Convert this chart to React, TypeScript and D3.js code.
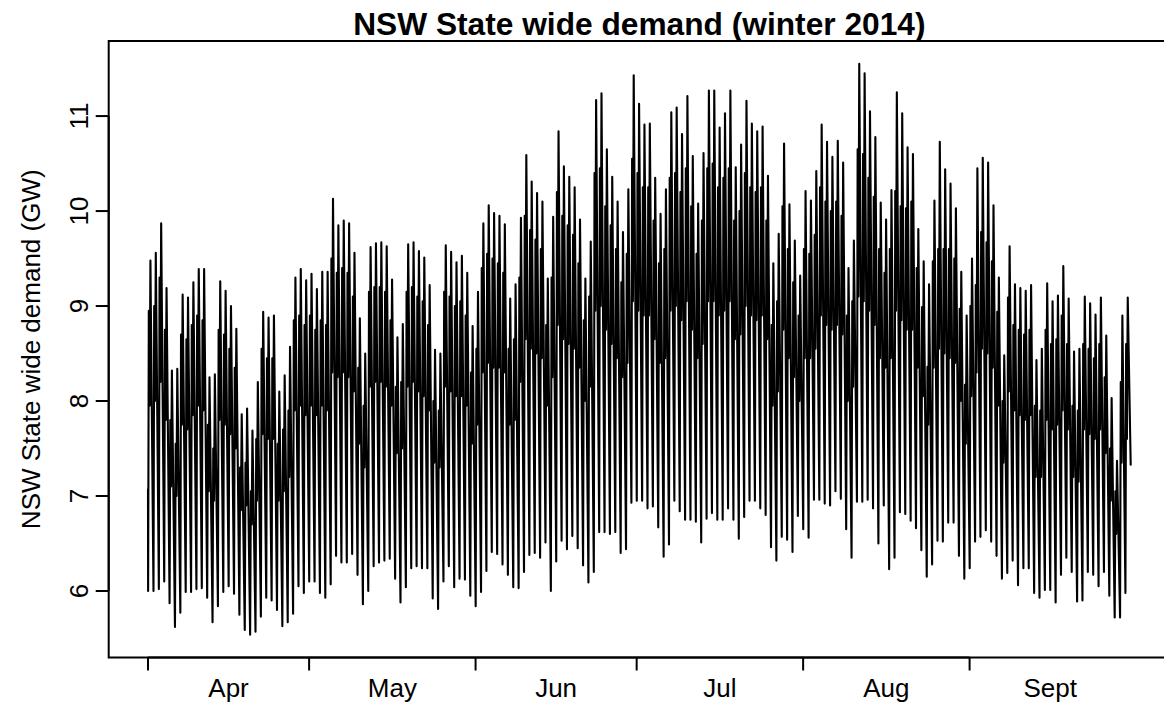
import React from 'react';
import * as d3 from 'd3';

// daily readings, 1 Apr 2014 .. 30 Sep 2014 (GW)
const peak = [
  9.48, 9.56, 9.87, 9.19, 8.32, 8.34, 9.12, 9.09, 9.25, 9.39, 9.39, 8.25, 8.28, 9.26, 9.16, 9.00, 8.76, 7.86, 7.92, 7.69, 8.20, 8.94, 8.88, 8.90, 8.10, 8.27, 8.57, 9.30, 9.39, 9.27,
  9.34, 9.18, 9.36, 9.36, 10.13, 9.85, 9.90, 9.87, 9.56, 8.87, 8.50, 9.62, 9.66, 9.67, 9.63, 9.28, 8.67, 8.81, 9.65, 9.67, 9.58, 9.51, 9.22, 8.54, 8.50, 9.64, 9.57, 9.46, 9.53, 9.35, 8.79,
  9.15, 9.87, 10.06, 9.98, 9.95, 9.86, 9.08, 9.23, 9.93, 10.59, 10.31, 10.19, 10.10, 9.29, 9.94, 10.84, 10.47, 10.36, 10.25, 9.91, 9.29, 9.68, 11.17, 11.24, 10.65, 10.36, 10.10, 9.78, 10.23, 11.43,
  11.13, 10.91, 10.92, 10.35, 9.97, 10.23, 11.04, 11.09, 10.81, 11.21, 10.58, 10.08, 10.61, 11.27, 11.27, 10.88, 11.03, 11.27, 10.46, 10.70, 11.16, 10.92, 10.84, 10.89, 10.37, 9.45, 9.76, 10.71, 10.07, 9.69, 9.32,
  10.21, 10.11, 10.42, 10.91, 10.73, 10.57, 10.74, 10.51, 9.40, 9.69, 11.55, 11.45, 11.05, 10.78, 10.09, 9.91, 10.22, 11.25, 11.03, 10.67, 10.60, 9.81, 9.47, 9.23, 10.11, 10.73, 10.44, 10.29, 10.03, 9.36, 8.90,
  9.50, 10.45, 10.56, 10.51, 10.06, 9.30, 8.48, 9.63, 9.23, 9.19, 9.16, 9.22, 8.43, 8.55, 9.24, 9.05, 9.11, 9.42, 9.08, 8.52, 8.55, 9.10, 9.03, 8.91, 9.09, 8.69, 8.03, 7.37, 8.90, 9.09,
];

const morning = [
  8.95, 9.00, 9.30, 8.75, 7.80, 7.55, 8.70, 8.65, 8.80, 8.90, 8.85, 7.75, 7.50, 8.75, 8.70, 8.55, 8.35, 7.30, 7.35, 7.05, 7.60, 8.55, 8.45, 8.45, 7.55, 7.70, 7.90, 8.85, 8.90, 8.80,
  8.90, 8.75, 8.85, 8.80, 9.50, 9.35, 9.40, 9.35, 9.10, 8.35, 7.95, 9.15, 9.20, 9.20, 9.15, 8.85, 8.15, 8.20, 9.15, 9.20, 9.10, 9.05, 8.80, 8.00, 7.90, 9.15, 9.10, 9.00, 9.05, 8.90, 8.30,
  8.55, 9.40, 9.55, 9.50, 9.45, 9.35, 8.55, 8.65, 9.30, 9.95, 9.80, 9.70, 9.60, 8.80, 9.30, 10.20, 9.95, 9.85, 9.75, 9.45, 8.85, 9.10, 10.40, 10.45, 10.05, 9.85, 9.60, 9.25, 9.55, 10.55,
  10.40, 10.25, 10.25, 9.90, 9.45, 9.60, 10.35, 10.40, 10.20, 10.45, 10.05, 9.55, 9.90, 10.45, 10.50, 10.25, 10.35, 10.45, 9.90, 10.00, 10.40, 10.25, 10.20, 10.25, 9.90, 8.80, 9.05, 10.05, 9.60, 9.25, 8.90,
  9.60, 9.55, 9.75, 10.25, 10.10, 10.00, 10.10, 9.95, 8.90, 9.05, 10.65, 10.60, 10.35, 10.15, 9.60, 9.35, 9.60, 10.21, 10.05, 10.03, 10.10, 9.40, 8.99, 8.36, 9.47, 9.60, 9.60, 9.60, 9.50, 8.97, 8.17,
  9.00, 9.22, 9.78, 9.67, 9.47, 8.94, 8.00, 9.09, 8.80, 8.75, 8.70, 8.75, 7.95, 7.90, 8.75, 8.60, 8.65, 8.90, 8.60, 7.95, 7.90, 8.60, 8.55, 8.45, 8.60, 8.25, 7.50, 7.05, 8.20, 8.60,
];

const midday = [
  7.95, 8.00, 8.20, 7.80, 7.10, 7.00, 7.75, 7.70, 7.85, 7.95, 7.90, 7.05, 6.95, 7.80, 7.75, 7.65, 7.50, 6.85, 6.90, 6.70, 6.95, 7.65, 7.60, 7.60, 6.95, 7.05, 7.20, 7.90, 7.95, 7.85,
  7.95, 7.85, 7.95, 7.90, 8.30, 8.25, 8.30, 8.25, 8.10, 7.55, 7.30, 8.15, 8.20, 8.20, 8.15, 7.95, 7.45, 7.50, 8.15, 8.20, 8.10, 8.05, 7.90, 7.35, 7.30, 8.15, 8.10, 8.05, 8.05, 7.95, 7.55,
  7.75, 8.30, 8.40, 8.35, 8.35, 8.30, 7.75, 7.80, 8.20, 8.65, 8.55, 8.50, 8.45, 7.95, 8.25, 8.80, 8.65, 8.60, 8.55, 8.35, 8.00, 8.15, 8.95, 9.00, 8.75, 8.60, 8.45, 8.25, 8.40, 9.05,
  8.95, 8.90, 8.90, 8.65, 8.40, 8.45, 8.95, 9.00, 8.85, 9.05, 8.75, 8.45, 8.60, 9.05, 9.05, 8.90, 8.95, 9.05, 8.65, 8.70, 9.00, 8.90, 8.85, 8.90, 8.65, 7.95, 8.10, 8.75, 8.45, 8.25, 8.00,
  8.45, 8.45, 8.55, 8.90, 8.80, 8.75, 8.80, 8.70, 8.00, 8.15, 9.10, 9.05, 8.95, 8.80, 8.45, 8.35, 8.45, 8.95, 8.85, 8.75, 8.75, 8.35, 8.05, 7.75, 8.35, 8.55, 8.50, 8.45, 8.40, 8.00, 7.55,
  8.05, 8.30, 8.55, 8.50, 8.35, 7.95, 7.35, 8.10, 7.90, 7.85, 7.80, 7.85, 7.20, 7.20, 7.80, 7.70, 7.75, 7.90, 7.70, 7.20, 7.15, 7.70, 7.65, 7.60, 7.70, 7.45, 6.95, 6.60, 7.35, 7.60,
];

const trough = [
  6.00, 6.00, 6.02, 6.10, 5.87, 5.62, 5.77, 5.99, 5.99, 6.02, 6.03, 5.93, 5.67, 5.84, 5.99, 6.05, 5.97, 5.75, 5.59, 5.54, 5.57, 5.73, 5.93, 5.90, 5.80, 5.63, 5.67, 5.76, 6.05, 5.98,
  6.10, 6.10, 5.98, 5.93, 6.07, 6.37, 6.30, 6.30, 6.39, 6.17, 5.86, 6.00, 6.26, 6.30, 6.32, 6.34, 6.13, 5.88, 6.04, 6.24, 6.26, 6.24, 6.24, 5.92, 5.81, 6.10, 6.26, 6.04, 6.13, 6.12, 5.95,
  5.84, 5.99, 6.21, 6.41, 6.39, 6.28, 6.17, 6.04, 6.03, 6.20, 6.38, 6.40, 6.35, 6.51, 6.00, 6.31, 6.53, 6.44, 6.58, 6.45, 6.27, 6.09, 6.20, 6.62, 6.62, 6.60, 6.62, 6.40, 6.44, 6.93,
  6.95, 6.95, 6.87, 6.89, 6.67, 6.36, 6.49, 6.95, 6.84, 6.75, 6.75, 6.73, 6.51, 6.76, 6.82, 6.75, 6.75, 6.87, 6.75, 6.55, 6.78, 6.95, 6.95, 6.87, 6.80, 6.46, 6.32, 6.57, 6.54, 6.41, 6.79,
  6.65, 6.56, 6.96, 6.96, 6.92, 6.90, 7.05, 6.97, 6.65, 6.35, 6.94, 6.94, 6.96, 6.87, 6.50, 6.90, 6.23, 6.35, 6.83, 6.81, 6.74, 6.66, 6.43, 6.15, 6.28, 6.53, 6.52, 6.72, 6.72, 6.37, 6.13,
  6.24, 6.52, 6.57, 6.64, 6.52, 6.37, 6.13, 6.19, 6.32, 6.06, 6.24, 6.24, 5.98, 5.93, 6.01, 6.01, 5.88, 6.17, 6.35, 6.20, 5.89, 5.90, 6.20, 6.17, 6.05, 6.20, 5.95, 5.72, 5.72, 5.98,
];

const startValue = 7.07;
const endValue = 7.33;

const monthLabels = ['Apr', 'May', 'Jun', 'Jul', 'Aug', 'Sept'];
const yTicks = [6, 7, 8, 9, 10, 11];

const width = 1164;
const height = 707;
const plot = { left: 108.7, right: 1170, top: 41, bottom: 657.5 };
const font = 'Liberation Sans, Arial, Helvetica, sans-serif';

const DAY = 86400000;
const start = Date.UTC(2014, 3, 1);
const end = start + peak.length * DAY;

const App = () => {
  // series: each day -> overnight low, morning high, midday dip, evening peak
  const points: [number, number][] = [[start, startValue]];
  peak.forEach((p, d) => {
    points.push([start + (d + 0.02) * DAY, trough[d]]);
    points.push([start + (d + 0.15) * DAY, morning[d]]);
    points.push([start + (d + 0.3) * DAY, midday[d]]);
    points.push([start + (d + 0.45) * DAY, p]);
  });
  points.push([end, endValue]);

  // R style 4% padding on both axes
  const xPad = (end - start) * 0.04;
  const x = d3.scaleUtc()
    .domain([new Date(start - xPad), new Date(end + xPad)])
    .range([plot.left, plot.right]);

  const lo = d3.min(points, d => d[1]) as number;
  const hi = d3.max(points, d => d[1]) as number;
  const yPad = (hi - lo) * 0.04;
  const y = d3.scaleLinear()
    .domain([lo - yPad, hi + yPad])
    .range([plot.bottom, plot.top]);

  const line = d3.line<[number, number]>()
    .x(d => x(new Date(d[0])))
    .y(d => y(d[1]));

  const months = d3.utcMonth.range(new Date(start), new Date(end));
  const monthEnds = d3.utcMonth.range(new Date(start + DAY), new Date(end + DAY));
  const xFirst = x(months[0]);
  const xLast = x(months[months.length - 1]);

  return (
    <svg width={width} height={height} style={{ position: 'absolute', left: 0, top: 0, background: '#fff' }}>
      <rect x={0} y={0} width={width} height={height} fill="#fff" />
      <text x={(plot.left + plot.right) / 2} y={35} textAnchor="middle"
        fontFamily={font} fontWeight="bold" fontSize={31.7}>
        NSW State wide demand (winter 2014)
      </text>

      <path d={line(points) as string} fill="none" stroke="#000" strokeWidth={2.1}
        strokeLinejoin="round" strokeLinecap="round" />

      <rect x={plot.left} y={plot.top} width={plot.right - plot.left} height={plot.bottom - plot.top}
        fill="none" stroke="#000" strokeWidth={2} />

      {/* x axis */}
      <line x1={xFirst} x2={xLast} y1={plot.bottom} y2={plot.bottom} stroke="#000" strokeWidth={2} />
      {months.map((m, i) => (
        <line key={i} x1={x(m)} x2={x(m)} y1={plot.bottom} y2={plot.bottom + 13} stroke="#000" strokeWidth={2} />
      ))}
      {months.map((m, i) => (
        <text key={i} x={(x(m) + x(monthEnds[i])) / 2} y={697} textAnchor="middle"
          fontFamily={font} fontSize={26}>{monthLabels[i]}</text>
      ))}

      {/* y axis */}
      <line x1={plot.left} x2={plot.left} y1={y(yTicks[0])} y2={y(yTicks[yTicks.length - 1])} stroke="#000" strokeWidth={2} />
      {yTicks.map(t => (
        <g key={t}>
          <line x1={plot.left - 13} x2={plot.left} y1={y(t)} y2={y(t)} stroke="#000" strokeWidth={2} />
          <text transform={`translate(88, ${y(t)}) rotate(-90)`} textAnchor="middle"
            fontFamily={font} fontSize={26}>{t}</text>
        </g>
      ))}
      <text transform={`translate(40, ${(plot.top + plot.bottom) / 2}) rotate(-90)`} textAnchor="middle"
        fontFamily={font} fontSize={26}>NSW State wide demand (GW)</text>
    </svg>
  );
};

export default App;
